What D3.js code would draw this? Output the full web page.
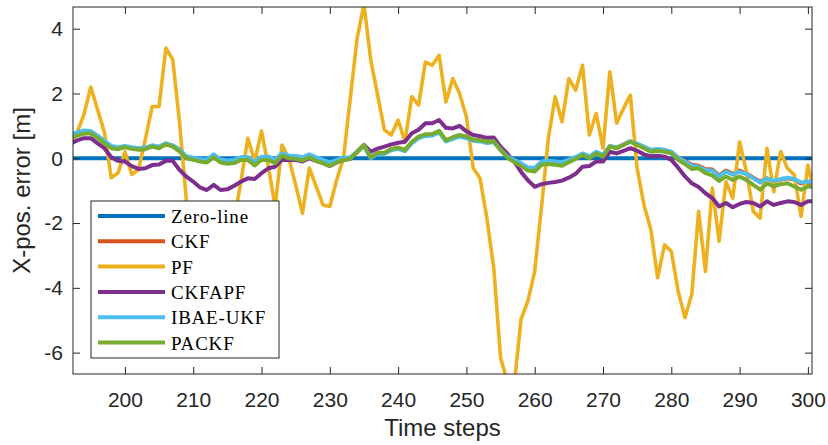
<!DOCTYPE html>
<html>
<head>
<meta charset="utf-8">
<script src="https://cdn.jsdelivr.net/npm/d3@7/dist/d3.min.js"></script>
<style>
  html, body { margin: 0; padding: 0; background: #fff; }
  svg { display: block; }
  .tick text { font-family: "Liberation Sans", Arial, sans-serif; font-size: 21px; fill: #262626; }
  .tick line { stroke: #262626; }
</style>
</head>
<body>
<div id="chart"></div>
<script>
// time steps 192..301
const timeSteps = d3.range(192, 302);

const zeroT = [192, 301];
const zeroLine = [0, 0];

const pf = [
  0.4, 0.8, 1.35, 2.2, 1.5, 0.8, -0.6, -0.45, 0.2, -0.5,
  -0.35, 0.6, 1.6, 1.6, 3.4, 3.05, 1.1, -1.3, -2.6, -3.3,
  -2.7, -2.2, -2.9, -2.5, -1.9, -0.7, 0.62, -0.1, 0.84, -0.25,
  -1.5, 0.41, 0.0, -0.82, -1.7, -0.3, -0.87, -1.44, -1.49, -0.67,
  0.0, 1.85, 3.7, 4.75, 3.03, 1.95, 0.87, 0.72, 1.18, 0.51,
  1.9, 1.64, 2.97, 2.87, 3.18, 1.74, 2.46, 2.0, 1.28, -0.31,
  -0.62, -1.85, -3.38, -6.15, -6.9, -7.0, -4.97, -4.41, -3.49, -1.5,
  0.62, 1.9, 1.13, 2.46, 2.1, 2.87, 0.72, 1.38, 0.31, 2.67,
  1.08, 1.54, 1.95, -0.31, -1.44, -2.2, -3.69, -2.67, -2.87, -4.1,
  -4.92, -4.2, -1.64, -3.49, -0.92, -2.56, -0.72, -1.23, 0.51, -0.41,
  -1.64, -1.85, 0.31, -1.03, 0.21, -0.31, -0.51, -1.8, -0.21, -1.1
];

const ckf = [
  0.68, 0.76, 0.82, 0.81, 0.66, 0.5, 0.35, 0.31, 0.36, 0.32,
  0.29, 0.31, 0.38, 0.34, 0.45, 0.38, 0.24, 0.03, -0.01, -0.06,
  -0.09, 0.08, -0.08, -0.12, -0.1, 0.0, 0.0, -0.17, 0.0, 0.0,
  -0.1, 0.12, 0.04, 0.03, -0.02, 0.08, -0.02, -0.1, -0.18, -0.09,
  -0.01, 0.01, 0.2, 0.39, 0.01, 0.15, 0.15, 0.27, 0.31, 0.24,
  0.48, 0.64, 0.71, 0.72, 0.82, 0.54, 0.62, 0.69, 0.64, 0.56,
  0.54, 0.49, 0.51, 0.26, 0.04, -0.08, -0.19, -0.33, -0.35, -0.15,
  -0.13, -0.15, -0.17, -0.08, 0.01, 0.13, 0.03, 0.18, 0.08, 0.37,
  0.32, 0.42, 0.52, 0.43, 0.34, 0.23, 0.27, 0.24, 0.19, 0.02,
  -0.08, -0.2, -0.23, -0.33, -0.35, -0.53, -0.38, -0.48, -0.38, -0.47,
  -0.6, -0.72, -0.62, -0.72, -0.66, -0.62, -0.66, -0.78, -0.75, -0.78
];

const ckfapf = [
  0.44, 0.55, 0.62, 0.62, 0.46, 0.31, 0.03, -0.08, -0.1, -0.24,
  -0.33, -0.31, -0.21, -0.19, -0.08, -0.08, -0.36, -0.57, -0.72, -0.9,
  -0.98, -0.82, -0.98, -0.96, -0.85, -0.72, -0.62, -0.64, -0.46, -0.31,
  -0.26, -0.05, -0.05, -0.05, -0.1, 0.0, -0.08, -0.15, -0.24, -0.13,
  -0.05, -0.02, 0.2, 0.41, 0.2, 0.3, 0.36, 0.43, 0.48, 0.51,
  0.77, 0.88, 1.08, 1.08, 1.18, 0.94, 0.92, 1.0, 0.83, 0.72,
  0.68, 0.63, 0.64, 0.36, 0.14, -0.1, -0.42, -0.68, -0.88, -0.8,
  -0.76, -0.73, -0.69, -0.6, -0.48, -0.26, -0.24, -0.1, -0.1, 0.2,
  0.15, 0.23, 0.31, 0.23, 0.12, 0.06, 0.08, 0.05, -0.05, -0.29,
  -0.56, -0.77, -0.89, -1.08, -1.23, -1.49, -1.38, -1.51, -1.41, -1.35,
  -1.38, -1.49, -1.33, -1.44, -1.38, -1.33, -1.35, -1.44, -1.33, -1.33
];

const ibaeUkf = [
  0.72, 0.8, 0.86, 0.84, 0.7, 0.54, 0.38, 0.34, 0.38, 0.34,
  0.31, 0.33, 0.4, 0.36, 0.46, 0.4, 0.27, 0.06, 0.02, -0.02,
  -0.05, 0.12, -0.04, -0.07, -0.05, 0.04, 0.04, -0.12, 0.05, 0.05,
  -0.04, 0.16, 0.08, 0.07, 0.03, 0.12, 0.03, -0.05, -0.13, -0.05,
  0.02, 0.03, 0.2, 0.37, 0.0, 0.13, 0.14, 0.25, 0.29, 0.22,
  0.46, 0.62, 0.69, 0.7, 0.8, 0.52, 0.6, 0.67, 0.62, 0.54,
  0.52, 0.47, 0.5, 0.27, 0.06, -0.05, -0.15, -0.28, -0.3, -0.1,
  -0.08, -0.1, -0.12, -0.04, 0.04, 0.15, 0.06, 0.2, 0.1, 0.38,
  0.33, 0.42, 0.52, 0.45, 0.36, 0.26, 0.29, 0.26, 0.2, 0.02,
  -0.1, -0.23, -0.26, -0.36, -0.38, -0.56, -0.41, -0.51, -0.41, -0.49,
  -0.62, -0.75, -0.62, -0.7, -0.64, -0.6, -0.64, -0.75, -0.72, -0.74
];

const packf = [
  0.62, 0.7, 0.76, 0.77, 0.62, 0.46, 0.31, 0.28, 0.34, 0.29,
  0.26, 0.28, 0.36, 0.31, 0.43, 0.36, 0.21, 0.0, -0.05, -0.1,
  -0.13, 0.03, -0.13, -0.17, -0.15, -0.05, -0.05, -0.22, -0.05, -0.05,
  -0.15, 0.08, 0.0, -0.02, -0.07, 0.03, -0.08, -0.15, -0.24, -0.13,
  -0.05, -0.02, 0.2, 0.41, 0.03, 0.17, 0.17, 0.29, 0.33, 0.26,
  0.51, 0.67, 0.74, 0.75, 0.85, 0.56, 0.65, 0.72, 0.67, 0.58,
  0.56, 0.51, 0.53, 0.26, 0.02, -0.12, -0.24, -0.38, -0.41, -0.2,
  -0.18, -0.2, -0.23, -0.12, -0.02, 0.1, 0.0, 0.15, 0.05, 0.36,
  0.31, 0.41, 0.51, 0.41, 0.31, 0.2, 0.23, 0.2, 0.15, -0.05,
  -0.18, -0.33, -0.31, -0.46, -0.53, -0.7, -0.56, -0.67, -0.56, -0.67,
  -0.82, -0.97, -0.77, -0.87, -0.8, -0.77, -0.87, -0.97, -0.87, -0.9
];

const xTicks = [200, 210, 220, 230, 240, 250, 260, 270, 280, 290, 300];
const yTicks = [-6, -4, -2, 0, 2, 4];

const legendNames = ['Zero-line', 'CKF', 'PF', 'CKFAPF', 'IBAE-UKF', 'PACKF'];
const colors = ['#0072BD', '#D95319', '#EDB120', '#7E2F8E', '#4DBEEE', '#77AC30'];

const W = 828, H = 445;
const M = { top: 7, right: 16, bottom: 71, left: 73 };
const innerW = W - M.left - M.right, innerH = H - M.top - M.bottom;

const svg = d3.select('#chart').append('svg').attr('width', W).attr('height', H);
const inner = svg.append('g').attr('transform', `translate(${M.left},${M.top})`);

const x = d3.scaleLinear().domain([192.4, 300.6]).range([0, innerW]);
const y = d3.scaleLinear().domain([-6.66, 4.67]).range([innerH, 0]);

inner.append('clipPath').attr('id', 'plot-clip')
  .append('rect').attr('width', innerW).attr('height', innerH);

const plot = inner.append('g').attr('clip-path', 'url(#plot-clip)');
const line = d3.line().x(d => x(d[0])).y(d => y(d[1]));

const series = [
  { t: zeroT, v: zeroLine, w: 4.2 },
  { t: timeSteps, v: ckf, w: 4 },
  { t: timeSteps, v: pf, w: 3.6 },
  { t: timeSteps, v: ckfapf, w: 4 },
  { t: timeSteps, v: ibaeUkf, w: 4 },
  { t: timeSteps, v: packf, w: 4 },
];

series.forEach((s, i) => {
  plot.append('path')
    .datum(s.t.map((t, j) => [t, s.v[j]]))
    .attr('d', line)
    .attr('fill', 'none')
    .attr('stroke', colors[i])
    .attr('stroke-width', s.w)
    .attr('stroke-linejoin', 'round');
});

// axes (ticks pointing inward, mirrored on top/right)
const gx = inner.append('g').attr('transform', `translate(0,${innerH})`)
  .call(d3.axisBottom(x).tickValues(xTicks).tickSizeInner(-7).tickSizeOuter(0).tickPadding(18));
const gy = inner.append('g')
  .call(d3.axisLeft(y).tickValues(yTicks).tickSizeInner(-7).tickSizeOuter(0).tickPadding(10)
    .tickFormat(d3.format('d')));
inner.append('g')
  .call(d3.axisTop(x).tickValues(xTicks).tickSizeInner(-7).tickSizeOuter(0).tickFormat(''));
inner.append('g').attr('transform', `translate(${innerW},0)`)
  .call(d3.axisRight(y).tickValues(yTicks).tickSizeInner(-7).tickSizeOuter(0).tickFormat(''));
inner.selectAll('.domain').remove();
gy.selectAll('.tick text').text(d => d < 0 ? '-' + Math.abs(d) : d);

inner.append('rect')
  .attr('width', innerW).attr('height', innerH)
  .attr('fill', 'none').attr('stroke', '#262626').attr('stroke-width', 1);

svg.append('text')
  .attr('x', M.left + innerW / 2).attr('y', 436)
  .attr('text-anchor', 'middle')
  .style('font-family', '"Liberation Sans", Arial, sans-serif')
  .style('font-size', '24px').style('fill', '#262626')
  .text('Time steps');

svg.append('text')
  .attr('transform', `translate(30,${M.top + innerH / 2}) rotate(-90)`)
  .attr('text-anchor', 'middle')
  .style('font-family', '"Liberation Sans", Arial, sans-serif')
  .style('font-size', '24px').style('fill', '#262626')
  .text('X-pos. error [m]');

// legend
const lg = svg.append('g').attr('transform', 'translate(91,201)');
lg.append('rect').attr('width', 188).attr('height', 157)
  .attr('fill', '#fff').attr('stroke', '#262626').attr('stroke-width', 1);
legendNames.forEach((name, i) => {
  const g = lg.append('g').attr('transform', `translate(0,${15 + i * 25.3})`);
  g.append('line').attr('x1', 7).attr('x2', 74).attr('y1', 0).attr('y2', 0)
    .attr('stroke', colors[i]).attr('stroke-width', 4);
  g.append('text').attr('x', 80).attr('y', 7)
    .style('font-family', '"Liberation Serif", "Times New Roman", serif')
    .style('font-size', '19px').style('letter-spacing', '0.8px').style('fill', '#000')
    .text(name);
});
</script>
</body>
</html>
